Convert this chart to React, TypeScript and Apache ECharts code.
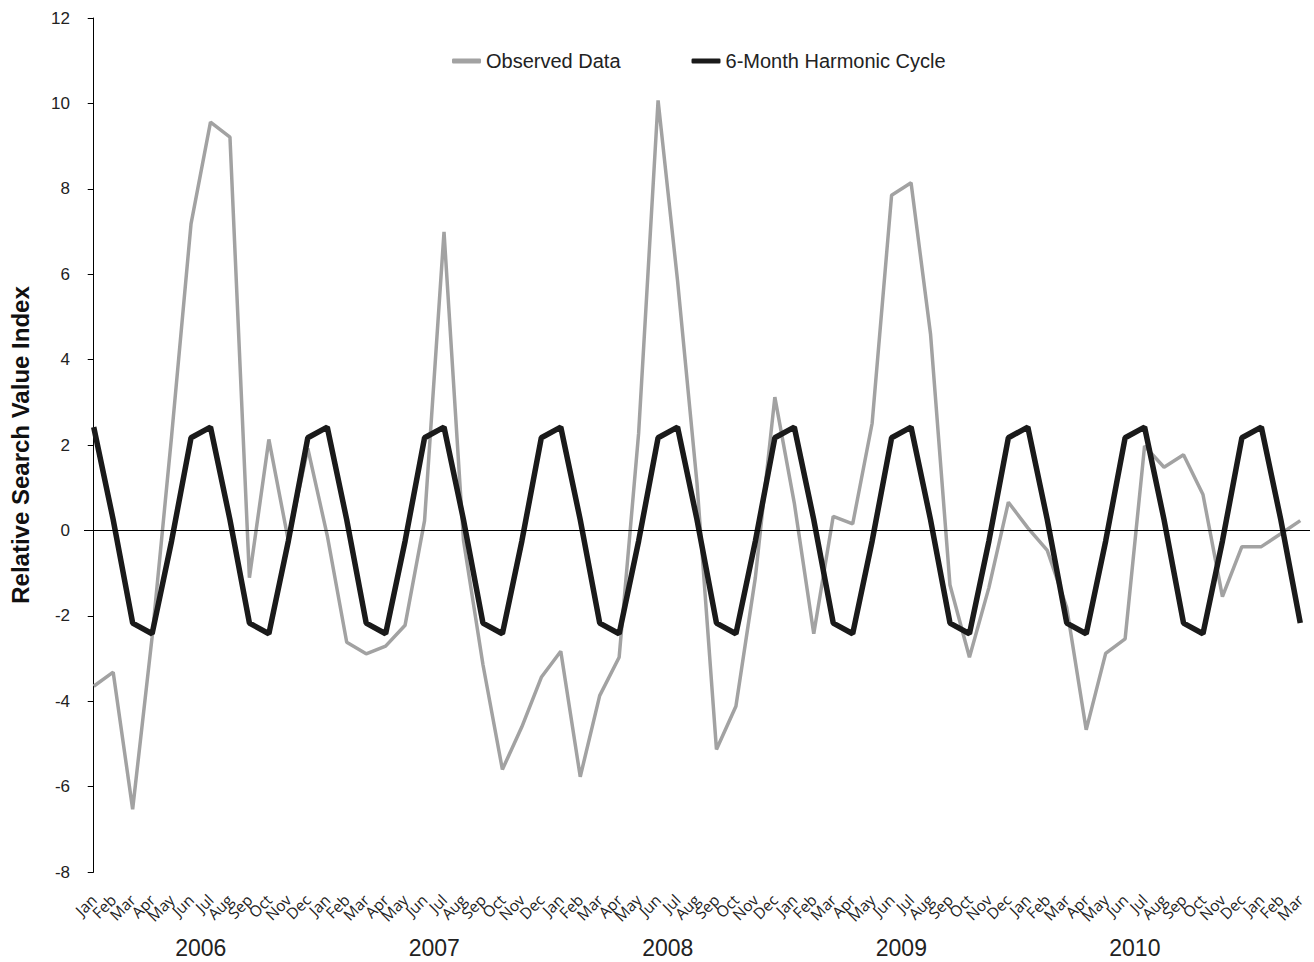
import React, { useEffect, useRef } from "react";
import * as echarts from "echarts";

const monthNames = ["Jan", "Feb", "Mar", "Apr", "May", "Jun", "Jul", "Aug", "Sep", "Oct", "Nov", "Dec"];
const years = ["2006", "2007", "2008", "2009", "2010", "2011"];
const yearLabels = ["2006", "2007", "2008", "2009", "2010"];

const categories: string[] = years
  .flatMap((y) => monthNames.map((m) => `${m} ${y}`))
  .slice(0, 63);

const observed = [
  -3.65, -3.32, -6.53, -2.5, 2.2, 7.18, 9.56, 9.21, -1.11, 2.13, -0.24, 1.92,
  -0.12, -2.62, -2.89, -2.71, -2.22, 0.23, 6.99, -0.23, -3.14, -5.6, -4.6, -3.44,
  -2.83, -5.77, -3.87, -2.97, 2.27, 10.07, 5.85, 1.1, -5.13, -4.12, -1.1, 3.12,
  0.64, -2.42, 0.33, 0.15, 2.51, 7.85, 8.14, 4.6, -1.28, -2.97, -1.34, 0.66,
  0.06, -0.47, -1.81, -4.67, -2.88, -2.54, 1.98, 1.48, 1.77, 0.84, -1.55, -0.38,
  -0.38, -0.08, 0.23,
];

const harmonic = [
  2.42, 0.25, -2.17, -2.42, -0.25, 2.17, 2.42, 0.25, -2.17, -2.42, -0.25, 2.17,
  2.42, 0.25, -2.17, -2.42, -0.25, 2.17, 2.42, 0.25, -2.17, -2.42, -0.25, 2.17,
  2.42, 0.25, -2.17, -2.42, -0.25, 2.17, 2.42, 0.25, -2.17, -2.42, -0.25, 2.17,
  2.42, 0.25, -2.17, -2.42, -0.25, 2.17, 2.42, 0.25, -2.17, -2.42, -0.25, 2.17,
  2.42, 0.25, -2.17, -2.42, -0.25, 2.17, 2.42, 0.25, -2.17, -2.42, -0.25, 2.17,
  2.42, 0.25, -2.17,
];

const yMin = -8;
const yMax = 12;
const yInterval = 2;

const GRAY = "#a2a2a2";
const BLACK = "#1a1a1a";
const FONT = "'Liberation Sans', Arial, sans-serif";

export default function App() {
  const ref = useRef<HTMLDivElement>(null);

  useEffect(() => {
    if (!ref.current) return;
    const chart = echarts.init(ref.current, undefined, { renderer: "svg" });
    const yearCenters = yearLabels.map((y) => categories.indexOf(`Jan ${y}`) + 5.5);
    chart.setOption({
      animation: false,
      backgroundColor: "#ffffff",
      grid: { left: 84, right: 4, top: 18, bottom: 90, containLabel: false, outerBoundsMode: "none" },
      legend: {
        left: 447,
        top: 46,
        itemWidth: 29,
        itemHeight: 5,
        itemGap: 71,
        textStyle: { fontSize: 20, fontFamily: FONT, color: "#222" },
        data: [
          { name: "Observed Data", icon: "roundRect", itemStyle: { color: GRAY } },
          { name: "6-Month Harmonic Cycle", icon: "roundRect", itemStyle: { color: BLACK } },
        ],
      },
      xAxis: [
        {
          type: "category",
          data: categories,
          boundaryGap: true,
          axisLine: { show: false },
          axisTick: { show: false },
          splitLine: { show: false },
          axisLabel: {
            interval: 0,
            rotate: 45,
            margin: 25,
            fontSize: 15.5,
            fontFamily: "'Open Sans', sans-serif",
            color: "#222",
            formatter: (v: string) => v.split(" ")[0],
          },
        },
        {
          type: "value",
          min: -0.5,
          max: categories.length - 0.5,
          position: "bottom",
          offset: 56,
          axisLine: { show: false },
          axisTick: { show: false },
          splitLine: { show: false },
          axisLabel: {
            customValues: yearCenters,
            fontSize: 23,
            fontFamily: FONT,
            color: "#222",
            margin: 8,
            formatter: (v: number) => categories[Math.floor(v)].split(" ")[1],
          },
        },
      ],
      yAxis: {
        type: "value",
        min: yMin,
        max: yMax,
        interval: yInterval,
        name: "Relative Search Value Index",
        nameLocation: "middle",
        nameGap: 52,
        nameTextStyle: { fontWeight: "bold", fontSize: 24, fontFamily: FONT, color: "#111" },
        axisLine: { show: true, lineStyle: { color: "#000", width: 1 } },
        axisTick: { show: true, length: 6, inside: false, lineStyle: { color: "#000", width: 1 } },
        axisLabel: { margin: 14, fontSize: 17, fontFamily: FONT, color: "#222" },
        splitLine: { show: false },
      },
      series: [
        {
          name: "Observed Data",
          type: "line",
          data: observed,
          xAxisIndex: 0,
          symbol: "none",
          lineStyle: { color: GRAY, width: 3.5 },
          itemStyle: { color: GRAY },
          markLine: {
            silent: true,
            symbol: ["none", "none"],
            label: { show: false },
            lineStyle: { color: "#000", width: 1, type: "solid" },
            data: [{ yAxis: 0 }],
          },
        },
        {
          name: "6-Month Harmonic Cycle",
          type: "line",
          data: harmonic,
          xAxisIndex: 0,
          symbol: "none",
          lineStyle: { color: BLACK, width: 5.5 },
          itemStyle: { color: BLACK },
        },
      ],
    });
    return () => chart.dispose();
  }, []);

  return (
    <div
      ref={ref}
      style={{ position: "fixed", left: 0, top: 0, width: 1314, height: 962, background: "#fff" }}
    />
  );
}
